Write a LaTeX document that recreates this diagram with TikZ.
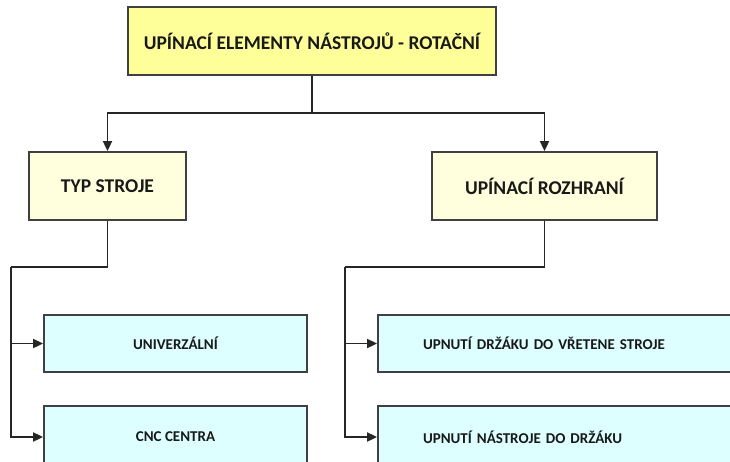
\documentclass[tikz,border=0pt]{standalone}
\usepackage{fontspec}
\setmainfont{Carlito}
\usetikzlibrary{arrows.meta}

\definecolor{boxline}{RGB}{64,64,64}
\definecolor{topfill}{RGB}{255,255,153}
\definecolor{midfill}{RGB}{255,255,221}
\definecolor{subfill}{RGB}{221,255,255}

\begin{document}
\begin{tikzpicture}[x=1pt,y=-1pt,line width=1.8pt,draw=boxline]
    \tikzstyle{box}=[draw=boxline,rectangle,inner sep=0pt,text=black!90,font=\bfseries]
    \tikzstyle{top_box}=[box,fill=topfill,minimum width=368,minimum height=68,font=\bfseries\fontsize{19.5}{22}\selectfont]
    \tikzstyle{mid_box}=[box,fill=midfill,minimum height=68,font=\bfseries\fontsize{19.5}{22}\selectfont]
    \tikzstyle{sub_box}=[box,fill=subfill,minimum height=57,font=\bfseries\fontsize{15}{17}\selectfont]
    \tikzstyle{link}=[black!85,line width=1.8pt,-{Triangle[length=10pt,width=9pt]}]
    \useasboundingbox (0,0) rectangle (730,461);
    \clip (0,0) rectangle (730,461);
    % header
    \node[top_box] (v_top) at (312,41) {UPÍNACÍ ELEMENTY NÁSTROJŮ - ROTAČNÍ};
    % second row
    \node[mid_box,minimum width=157] (v_typ) at (107.5,186) {TYP STROJE};
    \node[mid_box,minimum width=225] (v_rozhr) at (544.5,186) {UPÍNACÍ ROZHRANÍ};
    % third row, left branch
    \node[sub_box,minimum width=263] (v_univ) at (175.5,343.5) {UNIVERZÁLNÍ};
    \node[sub_box,minimum width=263,minimum height=62] (v_cnc) at (175.5,437) {CNC CENTRA};
    % third row, right branch (boxes run past the edge)
    \node[sub_box,minimum width=400,text width=310,align=left] (v_drzak) at (578,343.5) {UPNUTÍ DRŽÁKU DO VŘETENE STROJE};
    \node[sub_box,minimum width=400,minimum height=62,text width=310,align=left] (v_nastroj) at (578,437) {UPNUTÍ NÁSTROJE DO DRŽÁKU};
    % connectors
    \coordinate (c_split) at (312,113);
    \coordinate (c_left) at (11,267);
    \coordinate (c_right) at (345,267);
    \draw[black!85] (v_top.south) -- (c_split);
    \draw[link] (c_split) -| (v_typ.north);
    \draw[link] (c_split) -| (v_rozhr.north);
    \draw[black!85] (v_typ.south) |- (c_left);
    \draw[link] (c_left) |- (v_univ.west);
    \draw[link] (c_left) |- (v_cnc.west);
    \draw[black!85] (v_rozhr.south) |- (c_right);
    \draw[link] (c_right) |- (v_drzak.west);
    \draw[link] (c_right) |- (v_nastroj.west);
  \end{tikzpicture}
\end{document}
